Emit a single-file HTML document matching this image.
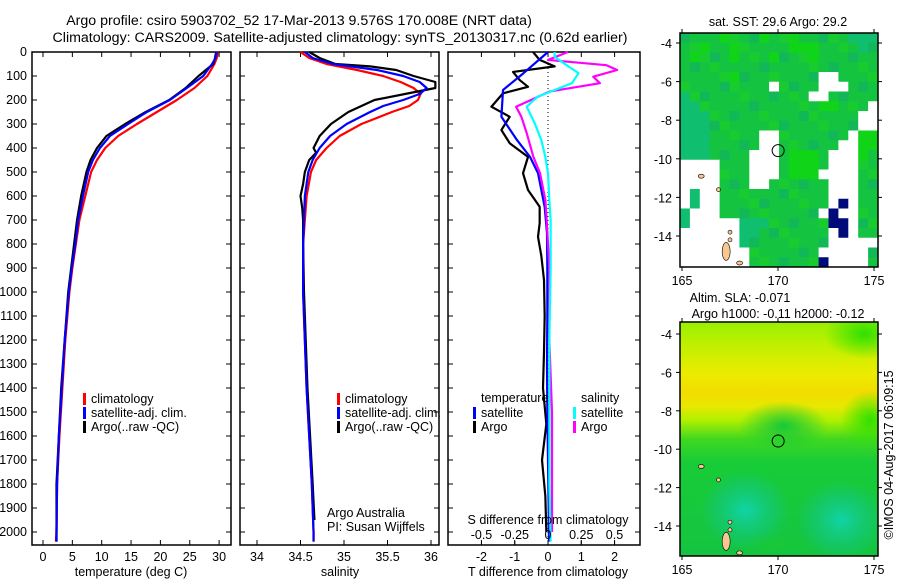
<!DOCTYPE html>
<html><head><meta charset="utf-8"><style>
body{margin:0;background:#fff;}
svg text{font-family:"Liberation Sans",sans-serif;fill:#000;}
</style></head><body>
<svg id="chart" width="900" height="580" viewBox="0 0 900 580" xmlns="http://www.w3.org/2000/svg">
<defs>
<clipPath id="clip1"><rect x="680" y="33" width="198" height="234"/></clipPath>
<clipPath id="clip2"><rect x="680" y="322" width="198" height="234"/></clipPath>
<linearGradient id="slaV" x1="0" y1="0" x2="0" y2="1">
<stop offset="0" stop-color="#98f000"/><stop offset="0.08" stop-color="#b8f000"/>
<stop offset="0.22" stop-color="#ecec00"/><stop offset="0.3" stop-color="#f2dc00"/>
<stop offset="0.36" stop-color="#e8e800"/><stop offset="0.42" stop-color="#b0f000"/>
<stop offset="0.5" stop-color="#40d820"/><stop offset="0.6" stop-color="#18cc38"/>
<stop offset="1" stop-color="#14c440"/></linearGradient>
<radialGradient id="teal"><stop offset="0" stop-color="#10d4a8"/><stop offset="0.6" stop-color="#14c880" stop-opacity="0.6"/><stop offset="1" stop-color="#14c880" stop-opacity="0"/></radialGradient>
<radialGradient id="grn"><stop offset="0" stop-color="#18c838"/><stop offset="1" stop-color="#18c838" stop-opacity="0"/></radialGradient>
<radialGradient id="grn2"><stop offset="0" stop-color="#30e000"/><stop offset="1" stop-color="#30e000" stop-opacity="0"/></radialGradient>
</defs>
<text x="299" y="25" font-size="14.2" text-anchor="middle">Argo profile: csiro 5903702_52 17-Mar-2013 9.576S 170.008E (NRT data)</text>
<text x="340" y="42" font-size="14.2" text-anchor="middle">Climatology: CARS2009. Satellite-adjusted climatology: synTS_20130317.nc (0.62d earlier)</text>
<g id="g1"></g>
<g id="g2"></g>
<g id="g3"></g>
<g id="m1"><g id="m1c" clip-path="url(#clip1)"></g></g>
<g id="m2"><g id="m2c" clip-path="url(#clip2)"></g></g>
<text transform="translate(893,455) rotate(-90)" font-size="12.5" text-anchor="middle">©IMOS 04-Aug-2017 06:09:15</text>
</svg>
<script>
// ---- data ----
const depthTicks=[0,100,200,300,400,500,600,700,800,900,1000,1100,1200,1300,1400,1500,1600,1700,1800,1900,2000];
const tempTicks=[0,5,10,15,20,25,30];
const salTicks=[34,34.5,35,35.5,36];
const tdTicks=[-2,-1,0,1,2];
const sdTickVals=[-0.5,-0.25,0,0.25,0.5];
const sdTickLabels=["-0.5","-0.25","0","0.25","0.5"];
const tDepth=[0,25,50,100,150,200,250,300,350,400,450,500,600,700,800,900,1000,1200,1400,1600,1800,2000,2040];
const tClim=[29.8,29.6,29.2,28.0,25.8,22.8,19.4,16.0,12.8,10.6,9.2,8.2,7.2,6.2,5.6,5.0,4.5,3.8,3.3,2.8,2.4,2.3,2.2];
const tSat=[29.6,29.4,28.8,27.3,24.5,21.6,17.7,14.5,11.4,9.7,8.5,7.7,6.8,6.0,5.5,4.9,4.4,3.7,3.2,2.7,2.4,2.3,2.3];
const tArgo=[29.5,29.3,29.0,26.5,24.3,21.5,17.5,14.0,10.8,9.2,8.1,7.4,6.5,5.8,5.3,4.8,4.3,3.7,3.1,2.7,2.3,2.3,2.3];
const sDepth=[0,25,50,75,100,125,150,175,200,225,250,300,350,400,450,500,600,800,1000,1200,1400,1600,1800,2000,2040];
const sClim=[34.5,34.6,34.8,35.15,35.45,35.65,35.8,35.88,35.85,35.75,35.55,35.2,34.95,34.8,34.68,34.62,34.57,34.53,34.53,34.55,34.57,34.6,34.63,34.65,34.65];
const sSat=[34.55,34.64,34.87,35.38,35.68,35.87,35.95,35.87,35.68,35.45,35.3,35.03,34.84,34.72,34.64,34.59,34.55,34.53,34.53,34.55,34.57,34.6,34.63,34.65,34.65];
const sArgoDepth=[0,25,50,60,75,100,125,150,175,200,225,250,275,300,350,400,420,450,500,550,600,650,700,800,1000,1200,1400,1600,1800,1950];
const sArgo=[34.6,34.72,34.9,35.3,35.6,35.8,36.05,36.05,35.7,35.35,35.2,35.05,34.95,34.85,34.72,34.65,34.68,34.6,34.55,34.53,34.5,34.52,34.53,34.53,34.54,34.56,34.58,34.61,34.64,34.66];
const dDepthT=[0,90,158,270,367,437,505,645,755,900,1100,1300,1500,1700,1900,2040];
const dTSat=[0,-0.75,-1.35,-1.4,-0.93,-0.54,-0.3,-0.1,-0.03,-0.02,-0.02,-0.03,-0.02,0,0.02,0.03];
const dDepthA=[0,33,60,83,117,145,172,228,270,325,380,437,505,575,645,713,770,850,950,1100,1250,1400,1550,1700,1850,2000];
const dTArgo=[-0.45,-0.25,0.2,-1.05,-0.85,-0.6,-1.35,-1.7,-1.15,-1.4,-1.15,-0.6,-0.75,-0.6,-0.25,-0.25,-0.3,-0.2,-0.12,-0.1,-0.12,-0.15,-0.05,-0.18,-0.08,-0.05];
const dDepthS=[0,20,55,88,130,187,228,297,367,437,505,617,700,900,1200,1500,1800,2040];
const dSSat=[0.05,0.05,0.14,0.23,0.18,-0.08,-0.16,-0.1,-0.05,-0.02,0,0.01,0.02,0.02,0.01,0.01,0.01,0.02];
const dDepthSA=[0,33,55,75,103,130,165,228,270,338,437,505,617,700,900,1200,1500,1800,2000];
const dSArgo=[0.15,0,0.44,0.52,0.34,0.39,0.01,-0.24,-0.2,-0.16,-0.11,-0.06,-0.02,-0.01,0.01,0.01,0.03,0.03,0.03];
const sstGrid=["mmmmgmmmgmmgmmmmmttt","mmgmmgmmmmmgggmmmmtm","mgmmmgmmmgmmmgmmmmmm","mmmmmmmmmmmmmmmmmmmm","mmmmmgmmmmmmmmwwmmmm","mmmmmmmmmwmmmmwwwmmm","tmmmmmmmmmmmmwwmmmmm","ttmmmmmmmmmmmmggmmmw","tttmmmmmmmmmmmmmmmww","tttmmmmmmmmmmmmmmmww","tttmmmmmwwmmmmmmmwgg","tttmmmmmwwmmmmmmwwgg","tttmmmmwwwmgggmwwwgm","wwwwmmmwwwmgggmwwwmm","wwwwmmmwwwmgggwwwwmm","wwwwmmmwwmmmmmmwwwmm","wtwwmmmmmmmmmmmwwwmm","wtwwmmmmmmmmmmmwnwmm","twwwmmmmmmmmmmwnwwmm","twwwwwtttmmmmmmnnwmm","wwwwwwttmmmmmmmwnwmm","wwwwwwtmmmmmmmmwwwww","wwwwwwwmmmmmmmwwwwwm","wwwwwwwmmmmmmmnwwwwm"];
const mapLonTicks=[165,170,175];
const mapLatTicks=[-4,-6,-8,-10,-12,-14];
const argoLon=170.008, argoLat=-9.576;
// ---- helpers ----
const NS="http://www.w3.org/2000/svg";
function mk(tag,attrs,parent){const e=document.createElementNS(NS,tag);for(const k in attrs)e.setAttribute(k,attrs[k]);parent.appendChild(e);return e;}
const Y0=52, PB=545, dy=d=>Y0+d*0.24;
const xT=t=>43+t*5.87, xS=s=>257+(s-34)*87, xTD=v=>548+v*33.3, xSD=v=>548+v*133;
function frame(g,x0,x1,name){const r=mk('rect',{x:x0,y:Y0,width:x1-x0,height:PB-Y0,fill:'none',stroke:'#000','stroke-width':1.5},g);
 depthTicks.forEach(d=>{mk('line',{x1:x0,x2:x0+5,y1:dy(d),y2:dy(d),stroke:'#000'},g);mk('line',{x1:x1-5,x2:x1,y1:dy(d),y2:dy(d),stroke:'#000'},g);});}
function xticks(g,vals,fx,labels,name){vals.forEach((v,i)=>{const x=fx(v);mk('line',{x1:x,x2:x,y1:PB,y2:PB-5,stroke:'#000'},g);mk('line',{x1:x,x2:x,y1:Y0,y2:Y0+5,stroke:'#000'},g);
 const t=mk('text',{x:x,y:PB+16,'font-size':12.5,'text-anchor':'middle'},g);t.textContent=labels?labels[i]:String(v);});}
function line(g,xs,ds,fx,col,name){const p=mk('polyline',{points:xs.map((v,i)=>fx(v)+','+dy(ds[i])).join(' '),fill:'none',stroke:col,'stroke-width':2.2,'stroke-linejoin':'round'},g);}
function txt(g,x,y,s,name,anchor){const t=mk('text',{x:x,y:y,'font-size':12.5,'text-anchor':anchor||'start'},g);t.textContent=s;return t;}
function leg(g,x,y,col,s,name){mk('rect',{x:x,y:y-10,width:3,height:12,fill:col},g);txt(g,x+8,y,s,name);}
// ---- panel 1 ----
const g1=document.getElementById('g1');
frame(g1,32,231,'temperature-axes');
depthTicks.forEach(d=>txt(g1,27,dy(d)+4,String(d),'depth-tick-label','end'));
xticks(g1,tempTicks,xT,null,'temperature-tick-label');
line(g1,tClim,tDepth,xT,'#ff0000','temperature-climatology-line');
line(g1,tArgo,tDepth,xT,'#000','temperature-argo-line');
line(g1,tSat,tDepth,xT,'#0000ff','temperature-satellite-line');
txt(g1,131,576,'temperature (deg C)','temperature-axis-title','middle');
leg(g1,83,403,'#ff0000','climatology','legend-climatology');
leg(g1,83,417,'#0000ff','satellite-adj. clim.','legend-satellite');
leg(g1,83,431,'#000','Argo(..raw -QC)','legend-argo');
// ---- panel 2 ----
const g2=document.getElementById('g2');
frame(g2,240,439,'salinity-axes');
xticks(g2,salTicks,xS,null,'salinity-tick-label');
line(g2,sClim,sDepth,xS,'#ff0000','salinity-climatology-line');
line(g2,sArgo,sArgoDepth,xS,'#000','salinity-argo-line');
line(g2,sSat,sDepth,xS,'#0000ff','salinity-satellite-line');
txt(g2,340,576,'salinity','salinity-axis-title','middle');
leg(g2,337,403,'#ff0000','climatology','legend-climatology');
leg(g2,337,417,'#0000ff','satellite-adj. clim.','legend-satellite');
leg(g2,337,431,'#000','Argo(..raw -QC)','legend-argo');
txt(g2,327,517,'Argo Australia','credit-argo-australia');
txt(g2,327,531,'PI: Susan Wijffels','credit-pi');
// ---- panel 3 ----
const g3=document.getElementById('g3');
frame(g3,448,640,'difference-axes');
xticks(g3,tdTicks,xTD,null,'t-diff-tick-label');
mk('line',{x1:548,x2:548,y1:Y0,y2:PB,stroke:'#000','stroke-dasharray':'1,3'},g3);
line(g3,dTArgo,dDepthA,xTD,'#000','t-diff-argo-line');
line(g3,dTSat,dDepthT,xTD,'#0000ff','t-diff-satellite-line');
line(g3,dSArgo,dDepthSA,xSD,'#ff00ff','s-diff-argo-line');
line(g3,dSSat,dDepthS,xSD,'#00ffff','s-diff-satellite-line');
sdTickVals.forEach((v,i)=>{txt(g3,xSD(v),539,sdTickLabels[i],'s-diff-tick-label','middle');mk('line',{x1:xSD(v),x2:xSD(v),y1:PB,y2:PB-4,stroke:'#000'},g3);});
txt(g3,548,524,'S difference from climatology','s-diff-axis-title','middle');
txt(g3,548,576,'T difference from climatology','t-diff-axis-title','middle');
txt(g3,481,402,'temperature','legend-temperature-header');
leg(g3,473,417,'#0000ff','satellite','legend-t-satellite');
leg(g3,473,431,'#000','Argo','legend-t-argo');
txt(g3,581,402,'salinity','legend-salinity-header');
leg(g3,573,417,'#00ffff','satellite','legend-s-satellite');
leg(g3,573,431,'#ff00ff','Argo','legend-s-argo');
// ---- maps ----
const MX0=680,MX1=878;
const mxf=l=>682+(l-165)*19.2;
function mapAxes(g,top,bot,latf){
 mk('rect',{x:MX0,y:top,width:MX1-MX0,height:bot-top,fill:'none',stroke:'#000','stroke-width':1.5},g);
 mapLonTicks.forEach(l=>{const x=mxf(l);mk('line',{x1:x,x2:x,y1:bot,y2:bot+4,stroke:'#000'},g);mk('line',{x1:x,x2:x,y1:top,y2:top-4,stroke:'#000'},g);txt(g,x,bot+18,String(l),'map-lon-tick-label','middle');});
 mapLatTicks.forEach(l=>{const y=latf(l);mk('line',{x1:MX0-4,x2:MX0,y1:y,y2:y,stroke:'#000'},g);mk('line',{x1:MX1,x2:MX1+4,y1:y,y2:y,stroke:'#000'},g);txt(g,672,y+5,String(l),'map-lat-tick-label','end');});
 const c=mk('circle',{cx:mxf(argoLon),cy:latf(argoLat),r:6,fill:'none',stroke:'#000','stroke-width':1},g);
}
function islands(g,latf){
 [[167.3,-14.8,4,9],[168,-15.4,3,2],[166,-10.9,3,2],[166.9,-11.6,2,2],[167.5,-14.2,2,2],[167.5,-13.8,2,2]].forEach(a=>{const e=mk('ellipse',{cx:mxf(a[0]),cy:latf(a[1]),rx:a[2],ry:a[3],fill:'#f8c890',stroke:'#000','stroke-width':0.6},g);});
}
const m1=document.getElementById('m1'), m1c=document.getElementById('m1c');
const lat1=l=>43+(-4-l)*19.3;
const colMap={m:'#14c440',g:'#10d418',t:'#10be70',n:'#000a78',w:'#ffffff'};
const cw=(MX1-MX0)/20, ch=(267-33)/24;
sstGrid.forEach((row,r)=>{for(let c=0;c<20;c++){const k=row[c];let col=colMap[k];
 if(k==='m'&&((r*7+c*3)%5===0))col='#18cc30';if(k==='m'&&((r*3+c*5)%7===0))col='#12b858';
 const rc=mk('rect',{x:MX0+c*cw,y:33+r*ch,width:cw+0.5,height:ch+0.5,fill:col},m1c);}});
islands(m1c,lat1);
mapAxes(m1,33,267,lat1);
txt(m1,778,26,'sat. SST: 29.6 Argo: 29.2','sst-map-title','middle');
const m2=document.getElementById('m2'), m2c=document.getElementById('m2c');
const lat2=l=>334+(-4-l)*19.2;
mk('rect',{x:MX0,y:322,width:MX1-MX0,height:234,fill:'url(#slaV)'},m2c);
mk('ellipse',{cx:mxf(170.3),cy:lat2(-8.8),rx:45,ry:25,fill:'url(#grn)'},m2c);
mk('ellipse',{cx:mxf(174.5),cy:lat2(-4),rx:40,ry:25,fill:'url(#grn2)'},m2c);
mk('ellipse',{cx:mxf(174.8),cy:lat2(-8.5),rx:30,ry:30,fill:'url(#grn2)'},m2c);
mk('ellipse',{cx:mxf(168.3),cy:lat2(-13.2),rx:45,ry:40,fill:'url(#teal)'},m2c);
mk('ellipse',{cx:mxf(173.3),cy:lat2(-13.7),rx:45,ry:40,fill:'url(#teal)'},m2c);
mk('ellipse',{cx:mxf(170),cy:lat2(-15),rx:40,ry:12,fill:'url(#grn)'},m2c);
islands(m2c,lat2);
mapAxes(m2,322,556,lat2);
txt(m2,740,302,'Altim. SLA: -0.071','sla-map-title','middle');
txt(m2,778,318,'Argo h1000: -0.11 h2000: -0.12','sla-map-subtitle','middle');
</script>
</body></html>
